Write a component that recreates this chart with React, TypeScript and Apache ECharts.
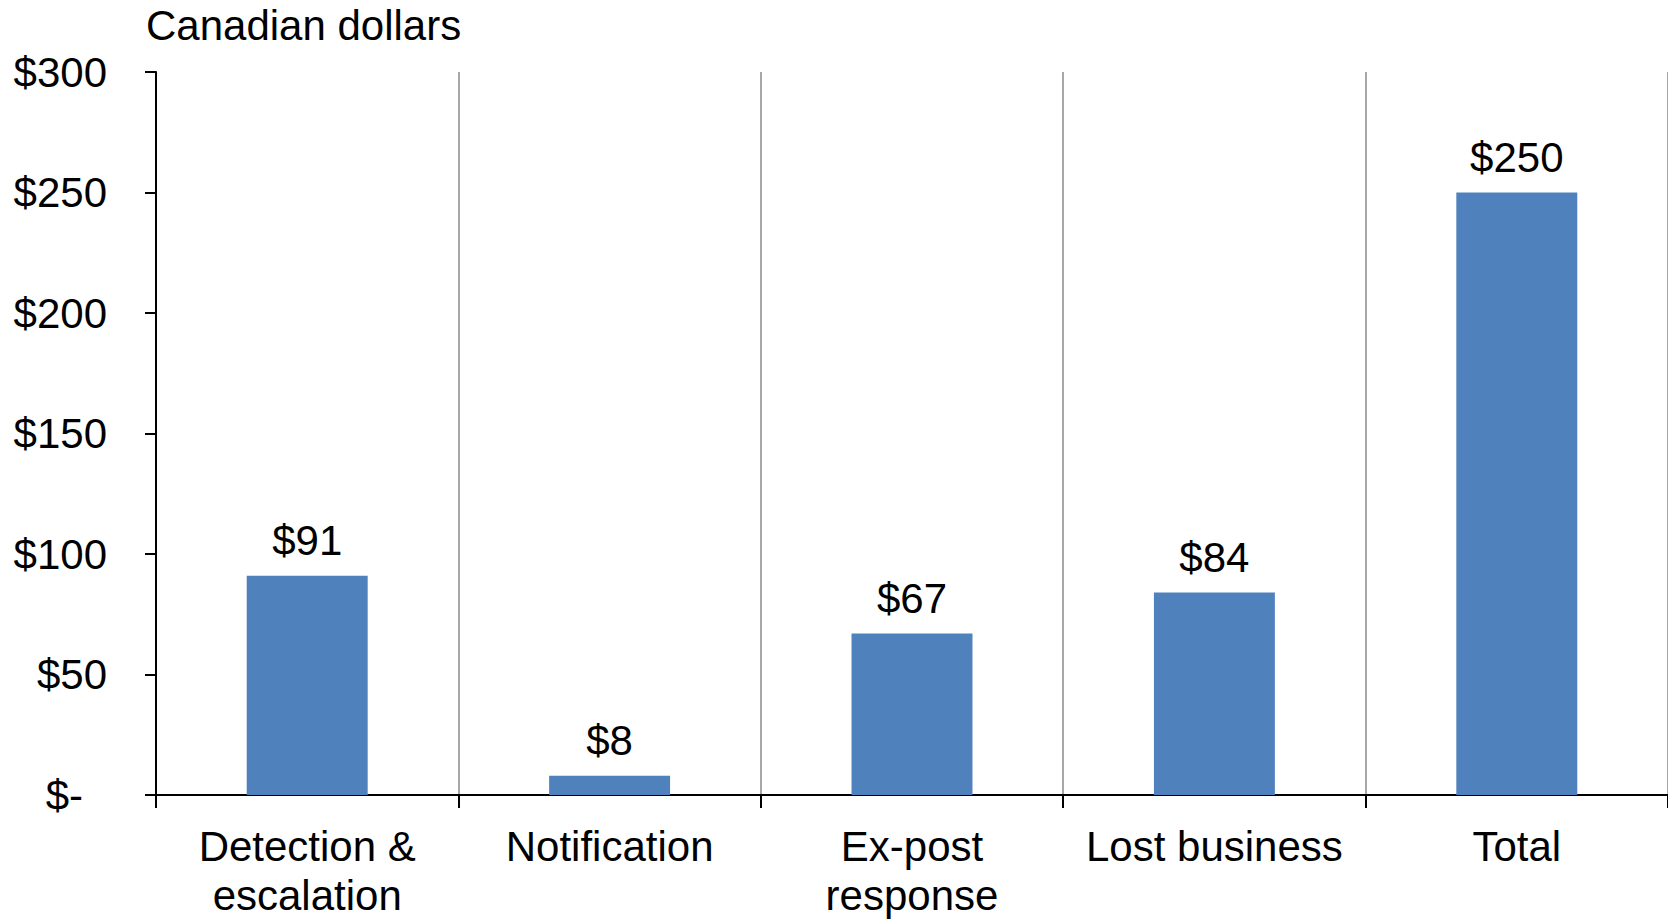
import React, { useEffect, useRef } from "react";
import * as echarts from "echarts";

const categories = ["Detection &\nescalation", "Notification", "Ex-post\nresponse", "Lost business", "Total"];
const values = [91, 8, 67, 84, 250];
const yTicks = { min: 0, max: 300, interval: 50 };
const unitLabel = "Canadian dollars";

const FONT = "'Liberation Sans', Arial, Helvetica, sans-serif";

export default function App() {
  const ref = useRef<HTMLDivElement>(null);
  useEffect(() => {
    if (!ref.current) return;
    const chart = echarts.init(ref.current, undefined, { renderer: "svg" });
    chart.setOption({
      animation: false,
      backgroundColor: "#ffffff",
      textStyle: { fontFamily: FONT },
      title: {
        text: unitLabel,
        left: 141,
        top: -1,
        textStyle: { fontFamily: FONT, fontSize: 42, fontWeight: "normal", color: "#000", lineHeight: 42 },
      },
      grid: { left: 156, right: 0, top: 72, bottom: 124, containLabel: false },
      xAxis: {
        type: "category",
        data: categories,
        axisLine: { show: true, lineStyle: { color: "#000", width: 2 } },
        axisTick: { show: true, length: 13, lineStyle: { color: "#000", width: 2 } },
        splitLine: { show: true, lineStyle: { color: "#8a8a8a", width: 1.5 } },
        axisLabel: {
          color: "#000",
          fontFamily: FONT,
          fontSize: 42,
          lineHeight: 49,
          margin: 27,
          interval: 0,
        },
      },
      yAxis: {
        type: "value",
        min: yTicks.min,
        max: yTicks.max,
        interval: yTicks.interval,
        axisLine: { show: true, lineStyle: { color: "#000", width: 2 } },
        axisTick: { show: true, length: 11, lineStyle: { color: "#000", width: 2 } },
        splitLine: { show: false },
        axisLabel: {
          color: "#000",
          fontFamily: FONT,
          fontSize: 42,
          margin: 49,
          formatter: (v: number) => (v === 0 ? "{z|$-}" : "$" + v),
          rich: { z: { fontFamily: FONT, fontSize: 42, color: "#000", padding: [0, 24, 0, 0] } },
        },
      },
      series: [
        {
          type: "bar",
          data: values,
          barWidth: "40%",
          itemStyle: { color: "#4F81BD" },
          label: {
            show: true,
            position: "top",
            distance: 14,
            color: "#000",
            fontFamily: FONT,
            fontSize: 42,
            lineHeight: 42,
            formatter: (p: any) => "$" + p.value,
          },
        },
      ],
    });
    return () => chart.dispose();
  }, []);
  return <div ref={ref} style={{ position: "fixed", left: 0, top: 0, width: 1668, height: 920 }} />;
}
